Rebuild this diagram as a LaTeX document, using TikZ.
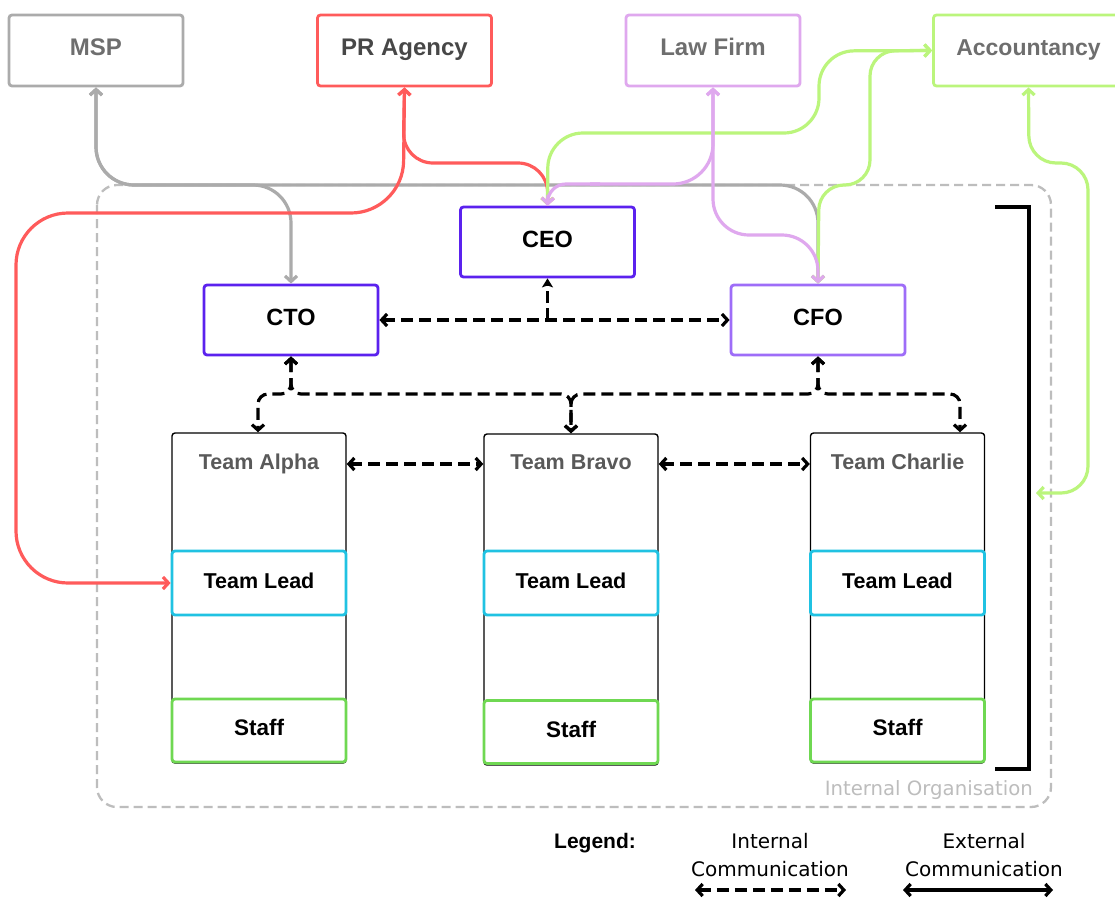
\documentclass[tikz,border=0pt]{standalone}
\usepackage{fontspec}
\setmainfont{Liberation Sans}
\newfontfamily\regfont{DejaVu Sans}
\usetikzlibrary{arrows.meta}
\definecolor{cgray}{HTML}{ABABAB}
\definecolor{cred}{HTML}{FF5B5B}
\definecolor{cpink}{HTML}{DFA8EE}
\definecolor{cgreen}{HTML}{BBF57C}
\definecolor{cpurple}{HTML}{5B22EE}
\definecolor{cpurplelight}{HTML}{9E6DF8}
\definecolor{ccyan}{HTML}{20C2E2}
\definecolor{cstaff}{HTML}{6FD852}
\definecolor{ctext}{HTML}{6E6E6E}
\definecolor{corg}{HTML}{BDBDBD}
\begin{document}
\begin{tikzpicture}[x=1pt,y=-1pt,
  >={Straight Barb[length=5.5pt,width=12pt]},
  basebox/.style={draw,rounded corners=3pt,line width=2.8pt,inner sep=0pt,fill=white,text height=16pt,text depth=6pt},
  extbox/.style={basebox,minimum width=174pt,minimum height=71pt,text=ctext,font=\bfseries\fontsize{24}{28}\selectfont,text height=17pt,text depth=7pt},
  rolebox/.style={basebox,draw=cpurple,minimum width=174pt,minimum height=70pt,font=\bfseries\fontsize{23.5}{27}\selectfont},
  teambox/.style={draw=black,rounded corners=3pt,line width=1.4pt,minimum width=174pt,minimum height=330pt,inner sep=0pt,fill=white},
  leadbox/.style={basebox,draw=ccyan,minimum width=174pt,minimum height=64pt,font=\bfseries\fontsize{21.5}{25}\selectfont},
  staffbox/.style={basebox,draw=cstaff,minimum width=174pt,minimum height=63pt,font=\bfseries\fontsize{22.5}{26}\selectfont},
  teamtitle/.style={inner sep=0pt,text=black!65,font=\bfseries\fontsize{21.5}{25}\selectfont,text height=15.5pt,text depth=4.5pt},
  ext/.style={line width=3.2pt,<->},
  int/.style={line width=3.2pt,dash pattern=on 12pt off 6pt,<->},
  legtext/.style={inner sep=0pt,font=\regfont\fontsize{20}{24}\selectfont,text height=14.5pt,text depth=4.5pt}
]
\useasboundingbox (0,0) rectangle (1115,897);
\fill[white] (0,0) rectangle (1115,897);

% internal organisation frame
\draw[corg,line width=2.3pt,dash pattern=on 9pt off 5pt,rounded corners=20pt] (97,185) rectangle (1051,807);
\node[anchor=east,inner sep=0pt,text=corg,font=\regfont\fontsize{19.7}{23}\selectfont] (orglabel) at (1033,790) {Internal Organisation};

% external boxes
\node[extbox,draw=cgray] (msp) at (96,50.5) {MSP};
\node[extbox,draw=cred,text=black!72] (pr) at (404.5,50.5) {PR Agency};
\node[extbox,draw=cpink] (law) at (713,50.5) {Law Firm};
\node[extbox,draw=cgreen,minimum width=190pt,font=\bfseries\fontsize{23}{27}\selectfont] (acc) at (1028.5,50.5) {Accountancy};

% roles
\node[rolebox] (ceo) at (547.5,242) {CEO};
\node[rolebox] (cto) at (291,320) {CTO};
\node[rolebox,draw=cpurplelight] (cfo) at (818,320) {CFO};

% teams
\node[teambox] (alpha) at (259,598) {};
\node[teambox,minimum height=331pt] (bravo) at (571,599.5) {};
\node[teambox] (charlie) at (897.5,598) {};
\node[teamtitle] (ta) at (259,464) {Team Alpha};
\node[teamtitle] (tb) at (571,464) {Team Bravo};
\node[teamtitle] (tc) at (897.5,464) {Team Charlie};
\node[leadbox] (tla) at (259,583) {Team Lead};
\node[leadbox] (tlb) at (571,583) {Team Lead};
\node[leadbox] (tlc) at (897.5,583) {Team Lead};
\node[staffbox] (sa) at (259,730.5) {Staff};
\node[staffbox] (sb) at (571,732) {Staff};
\node[staffbox] (sc) at (897.5,730.5) {Staff};

% bracket
\draw[line width=3.3pt] (995,207) -- (1029,207) -- (1029,769) -- (995,769);
\coordinate (brk) at (1036,493);

% internal communication
\draw[int] (cto.east) -- (cfo.west);
\draw[line width=3.2pt,dash pattern=on 12pt off 5pt,-{Stealth[length=9pt,width=11pt,inset=2pt]}] (ceo.south |- cto.east) -- (ceo.south);
\draw[int,rounded corners=10pt] (cto.south) -- (291,394) -- (258,394) -- (alpha.north -| 258,0);
\draw[int,rounded corners=10pt] (cto.south) -- (291,394) -- (571,394) -- (bravo.north);
\draw[int,rounded corners=10pt] (cfo.south) -- (818,394) -- (571,394) -- (bravo.north);
\draw[int,rounded corners=10pt] (cfo.south) -- (818,394) -- (960,394) -- (charlie.north -| 960,0);
\draw[int] (ta -| alpha.east) -- (tb -| bravo.west);
\draw[int] (tb -| bravo.east) -- (tc -| charlie.west);

% external communication
\draw[ext,cgray,rounded corners=38pt] (msp.south) -- (96,185) -- (291,185) -- (cto.north);
\draw[ext,cgray,rounded corners=38pt] (msp.south) -- (96,185) -- (818,185) -- (cfo.north);

\draw[ext,cred,rounded corners=30pt] (pr.south) -- (403,163) -- (548,163) -- (ceo.north);
\draw[ext,cred,rounded corners=52pt] (pr.south) -- (403,213) -- (16,213) -- (16,583) -- (tla.west);

\draw[ext,cgreen,rounded corners=35pt] (ceo.north) -- (548,133) -- (819,133) -- (819,51) -- (acc.west);
\draw[ext,cgreen,rounded corners=25pt] (cfo.north) -- (819,185) -- (870,185) -- (870,51) -- (acc.west);
\draw[ext,cgreen,rounded corners=27pt] (acc.south) -- (1029,163) -- (1088,163) -- (1088,493) -- (brk);

\draw[ext,cpink,<-,rounded corners=40pt] (law.south) -- (713,184) -- (590,184);
\draw[ext,cpink,-,rounded corners=18pt] (600,184) -- (548,184) -- (ceo.north);
\draw[ext,cpink,->] (548,195) -- (ceo.north);
\draw[ext,cpink,rounded corners=36pt] (law.south) -- (713,235) -- (818,235) -- (cfo.north);

% legend
\node[inner sep=0pt,font=\bfseries\fontsize{21}{25}\selectfont,text height=15pt,text depth=4.5pt] (leg) at (595,843) {Legend:};
\node[legtext] (li1) at (770,843) {Internal};
\node[legtext] (li2) at (770,871) {Communication};
\node[legtext] (le1) at (984,843) {External};
\node[legtext] (le2) at (984,871) {Communication};
\coordinate (lia) at (695,890);
\coordinate (lib) at (846,890);
\coordinate (lea) at (903,890);
\coordinate (leb) at (1053,890);
\draw[int] (lia) -- (lib);
\draw[ext] (lea) -- (leb);
\end{tikzpicture}
\end{document}
